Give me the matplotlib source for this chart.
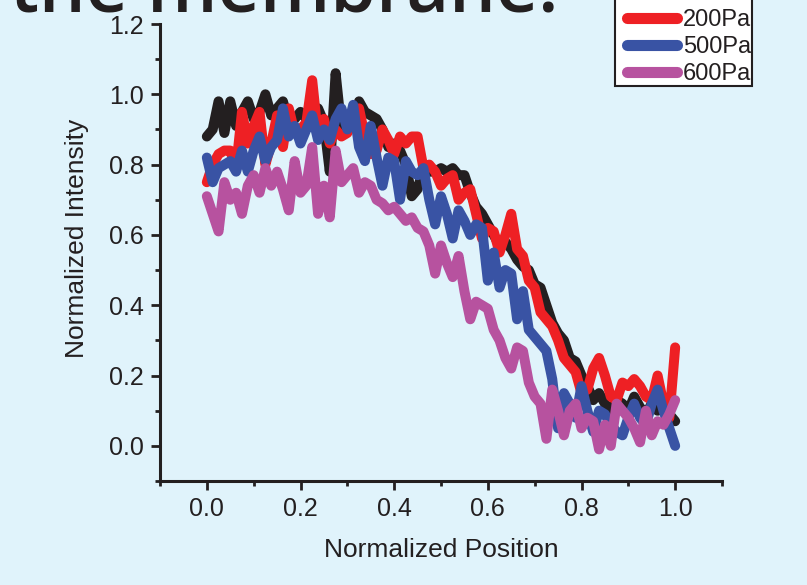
import numpy as np
import matplotlib.pyplot as plt
from matplotlib.lines import Line2D
from matplotlib.legend_handler import HandlerLine2D

# normalized position grid (step 0.0125)
position = np.linspace(0, 1, 81)

labels = ['0Pa', '200Pa', '500Pa', '600Pa']

i_0pa = [0.88, 0.90, 0.98, 0.89, 0.98, 0.91, 0.95, 0.98, 0.93, 0.95,
         1.00, 0.94, 0.96, 0.98, 0.92, 0.93, 0.95, 0.93, 0.92, 0.96,
         0.92, 0.78, 1.06, 0.90, 0.94, 0.92, 0.98, 0.95, 0.94, 0.93,
         0.90, 0.85, 0.86, 0.84, 0.80, 0.71, 0.73, 0.79, 0.78, 0.78,
         0.79, 0.78, 0.79, 0.77, 0.77, 0.72, 0.68, 0.66, 0.63, 0.60,
         0.57, 0.58, 0.56, 0.53, 0.51, 0.50, 0.46, 0.45, 0.40, 0.35,
         0.32, 0.30, 0.25, 0.24, 0.20, 0.17, 0.13, 0.15, 0.12, 0.10,
         0.13, 0.12, 0.10, 0.14, 0.11, 0.09, 0.12, 0.10, 0.11, 0.09,
         0.07]

i_200pa = [0.75, 0.80, 0.83, 0.84, 0.84, 0.79, 0.95, 0.86, 0.91, 0.95,
           0.80, 0.86, 0.94, 0.85, 0.96, 0.89, 0.90, 0.92, 1.04, 0.88,
           0.93, 0.86, 0.90, 0.88, 0.89, 0.93, 0.96, 0.88, 0.83, 0.84,
           0.90, 0.87, 0.83, 0.88, 0.86, 0.88, 0.88, 0.79, 0.80, 0.78,
           0.74, 0.76, 0.77, 0.70, 0.72, 0.73, 0.66, 0.59, 0.62, 0.61,
           0.55, 0.60, 0.66, 0.56, 0.54, 0.47, 0.45, 0.38, 0.36, 0.34,
           0.30, 0.25, 0.23, 0.21, 0.15, 0.16, 0.22, 0.25, 0.20, 0.14,
           0.13, 0.18, 0.17, 0.19, 0.17, 0.14, 0.13, 0.20, 0.12, 0.08,
           0.28]

i_500pa = [0.82, 0.75, 0.79, 0.80, 0.81, 0.78, 0.84, 0.78, 0.84, 0.88,
           0.81, 0.85, 0.87, 0.96, 0.88, 0.91, 0.86, 0.90, 0.94, 0.87,
           0.90, 0.87, 0.93, 0.96, 0.90, 0.97, 0.85, 0.81, 0.91, 0.82,
           0.74, 0.82, 0.81, 0.70, 0.81, 0.78, 0.77, 0.79, 0.70, 0.63,
           0.71, 0.66, 0.59, 0.67, 0.64, 0.60, 0.63, 0.62, 0.47, 0.55,
           0.45, 0.50, 0.49, 0.36, 0.44, 0.33, 0.31, 0.29, 0.27, 0.19,
           0.05, 0.15, 0.12, 0.08, 0.17, 0.10, 0.04, 0.10, 0.09, 0.06,
           0.04, 0.03, 0.08, 0.12, 0.08, 0.06, 0.12, 0.16, 0.10, 0.05,
           0.00]

i_600pa = [0.71, 0.66, 0.61, 0.75, 0.70, 0.72, 0.66, 0.74, 0.77, 0.72,
           0.79, 0.74, 0.78, 0.73, 0.67, 0.81, 0.72, 0.74, 0.85, 0.66,
           0.74, 0.65, 0.84, 0.75, 0.77, 0.79, 0.72, 0.75, 0.74, 0.70,
           0.69, 0.67, 0.68, 0.66, 0.64, 0.65, 0.62, 0.61, 0.57, 0.49,
           0.57, 0.52, 0.48, 0.54, 0.44, 0.36, 0.41, 0.40, 0.39, 0.33,
           0.30, 0.25, 0.22, 0.28, 0.27, 0.18, 0.14, 0.12, 0.02, 0.16,
           0.10, 0.03, 0.10, 0.12, 0.05, 0.08, 0.07, -0.01, 0.06, 0.00,
           0.12, 0.10, 0.08, 0.05, 0.01, 0.10, 0.03, 0.07, 0.06, 0.09,
           0.13]

colors = ['#231f20', '#ee2024', '#3953a4', '#b7529f']
bg = '#e0f3fb'
ink = '#231f20'

plt.rcParams['font.family'] = ['Liberation Sans', 'DejaVu Sans']

fig = plt.figure(figsize=(8.07, 5.85), dpi=100, facecolor=bg)
ax = fig.add_axes([160 / 807, 1 - 481 / 585, 562 / 807, 457 / 585])
ax.set_facecolor('none')

for y, c, lab in zip([i_0pa, i_200pa, i_500pa, i_600pa], colors, labels):
    ax.plot(position, y, color=c, lw=7.2, label=lab,
            solid_capstyle='round', solid_joinstyle='round')

ax.set_xlim(-0.1, 1.1)
ax.set_ylim(-0.1, 1.2)
ax.set_xticks(np.arange(0, 1.01, 0.2))
ax.set_xticks(np.arange(-0.1, 1.11, 0.1), minor=True)
ax.set_yticks(np.arange(0, 1.21, 0.2))
ax.set_yticks(np.arange(-0.1, 1.21, 0.1), minor=True)
ax.xaxis.set_major_formatter(plt.FormatStrFormatter('%.1f'))
ax.yaxis.set_major_formatter(plt.FormatStrFormatter('%.1f'))

for s in ['top', 'right']:
    ax.spines[s].set_visible(False)
for s in ['left', 'bottom']:
    ax.spines[s].set_linewidth(2.2)
    ax.spines[s].set_color(ink)

ax.tick_params(which='major', direction='out', length=6.5, width=2,
               color=ink, labelsize=18, labelcolor=ink, pad=5)
ax.tick_params(which='minor', direction='out', length=3.5, width=2, color=ink)

ax.set_xlabel('Normalized Position', fontsize=19, color=ink, labelpad=12)
ax.set_ylabel('Normalized Intensity', fontsize=19, color=ink)
ax.yaxis.set_label_coords(-0.127, 0.53)

leg = ax.legend(loc='lower left', bbox_to_anchor=(615 / 807, 1 - 86 / 585),
                bbox_transform=fig.transFigure, borderaxespad=0,
                fontsize=17, handlelength=2.56, handletextpad=0.27,
                labelspacing=0.2, borderpad=0.05, fancybox=False,
                framealpha=1, edgecolor=ink, facecolor='white',
                handler_map={Line2D: HandlerLine2D(xpad=0.445)})
leg.get_frame().set_linewidth(1.5)
for line in leg.get_lines():
    line.set_linewidth(8)
for t in leg.get_texts():
    t.set_color(ink)

fig.text(10 / 807, 1 - 12 / 585, 'the membrane.', fontsize=53,
         family='Open Sans', weight='semibold', color=ink, va='baseline')

fig.savefig('out.png', dpi=100, facecolor=bg)
